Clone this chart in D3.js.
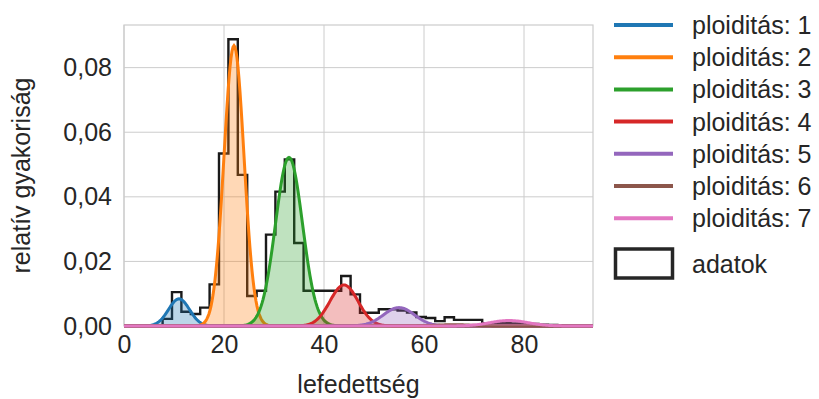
<!DOCTYPE html>
<html>
<head>
<meta charset="utf-8">
<script src="https://cdn.jsdelivr.net/npm/d3@7"></script>
<style>
  body { margin: 0; background: #fff; }
  svg text { font-family: "Liberation Sans", Arial, sans-serif; fill: #262626; }
</style>
</head>
<body>
<svg id="chart" width="819" height="399"></svg>
<script>
// histogram of coverage (bin edges and relative frequency per bin)
const binEdges = [7.72, 9.6, 11.48, 13.36, 15.24, 17.12, 19.0, 20.88, 22.76, 24.64,
  26.52, 28.4, 30.28, 32.16, 34.04, 35.92, 37.8, 39.68, 41.56, 43.44,
  45.32, 47.2, 49.08, 50.96, 52.84, 54.72, 56.6, 58.48, 60.36, 62.24,
  64.12, 66.0, 67.88, 69.76, 71.64, 73.52, 75.4, 77.28, 79.16, 81.04,
  82.92, 84.8, 86.68, 88.56];
const binValues = [0.0022, 0.0105, 0.0044, 0.0037, 0.0057, 0.0129, 0.0534, 0.0888, 0.0468, 0.0093,
  0.0109, 0.0283, 0.0416, 0.0516, 0.0257, 0.0109, 0.0109, 0.0109, 0.0109, 0.0155,
  0.0098, 0.0041, 0.0041, 0.0052, 0.0052, 0.0048, 0.0042, 0.0028, 0.0025, 0.0015,
  0.0027, 0.0019, 0.0019, 0.0019, 0.0009, 0.0008, 0.0009, 0.0008, 0.0007, 0.0006,
  0.0004, 0.0003, 0.0001];

// fitted ploidy components
const ploidyLabels = ['ploiditás: 1', 'ploiditás: 2', 'ploiditás: 3', 'ploiditás: 4',
  'ploiditás: 5', 'ploiditás: 6', 'ploiditás: 7'];
const ploidyMeans = [11, 22, 33, 44, 55, 66, 77];
const ploidySds = [2.1, 2.0, 2.7, 2.8, 3.1, 3.5, 3.8];
const ploidyPeaks = [0.0084, 0.0868, 0.0522, 0.0127, 0.0057, 0.0004, 0.0017];
const ploidyColors = ['#1f77b4', '#ff7f0e', '#2ca02c', '#d62728', '#9467bd', '#8c564b', '#e377c2'];

const xTicks = [0, 20, 40, 60, 80];
const yTicks = [0, 0.02, 0.04, 0.06, 0.08];
const dataLabel = 'adatok';

const margin = { top: 25, right: 226, bottom: 73, left: 124 };
const width = 819, height = 399;
const chartW = width - margin.left - margin.right;
const chartH = height - margin.top - margin.bottom;

const svg = d3.select('#chart');

const x = d3.scaleLinear().domain([0, 93.8]).range([0, chartW]);
const y = d3.scaleLinear().domain([0, 0.0932]).range([chartH, 0]);

const g = svg.append('g').attr('transform', `translate(${margin.left},${margin.top})`);

g.append('clipPath').attr('id', 'clip')
  .append('rect').attr('x', 0).attr('y', -2).attr('width', chartW).attr('height', chartH + 4);

// grid
g.append('g').selectAll('line').data(xTicks).join('line')
  .attr('x1', d => x(d)).attr('x2', d => x(d))
  .attr('y1', 0).attr('y2', chartH)
  .attr('stroke', '#cccccc').attr('stroke-width', 1);
g.append('g').selectAll('line').data(yTicks).join('line')
  .attr('x1', 0).attr('x2', chartW)
  .attr('y1', d => y(d)).attr('y2', d => y(d))
  .attr('stroke', '#cccccc').attr('stroke-width', 1);

g.append('rect').attr('width', chartW).attr('height', chartH)
  .attr('fill', 'none').attr('stroke', '#cccccc').attr('stroke-width', 1.2);

// axes
const fmt = d => d3.format('.2f')(d).replace('.', ',');
const yAxis = g.append('g').call(d3.axisLeft(y).tickValues(yTicks).tickFormat(fmt).tickSize(0).tickPadding(12));
const xAxis = g.append('g').attr('transform', `translate(0,${chartH})`)
  .call(d3.axisBottom(x).tickValues(xTicks).tickSize(0).tickPadding(9));
[xAxis, yAxis].forEach(a => {
  a.select('.domain').remove();
  a.selectAll('text').attr('font-size', 25).attr('font-family', '"Liberation Sans", Arial, sans-serif').attr('fill', '#262626');
});

const plot = g.append('g').attr('clip-path', 'url(#clip)');

// histogram outline
const histPts = [[binEdges[0], 0]];
binValues.forEach((v, i) => {
  histPts.push([binEdges[i], v]);
  histPts.push([binEdges[i + 1], v]);
});
histPts.push([binEdges[binEdges.length - 1], 0]);
plot.append('path')
  .attr('d', d3.line().x(d => x(d[0])).y(d => y(d[1]))(histPts))
  .attr('fill', 'none').attr('stroke', '#1a1a1a').attr('stroke-width', 2.4);

// components
const xs = d3.range(0, 94, 0.2);
ploidyMeans.forEach((m, i) => {
  const pts = xs.map(v => [v, ploidyPeaks[i] * Math.exp(-((v - m) ** 2) / (2 * ploidySds[i] ** 2))]);
  plot.append('path')
    .attr('d', d3.area().x(d => x(d[0])).y0(y(0)).y1(d => y(d[1]))(pts))
    .attr('fill', ploidyColors[i]).attr('fill-opacity', 0.3);
  plot.append('path')
    .attr('d', d3.line().x(d => x(d[0])).y(d => y(d[1]))(pts))
    .attr('fill', 'none').attr('stroke', ploidyColors[i]).attr('stroke-width', 3);
});

// axis titles
svg.append('text').attr('x', margin.left + chartW / 2).attr('y', 393)
  .attr('text-anchor', 'middle').attr('font-size', 25).text('lefedettség');
svg.append('text').attr('transform', `translate(30,${margin.top + chartH / 2}) rotate(-90)`)
  .attr('text-anchor', 'middle').attr('font-size', 25).text('relatív gyakoriság');

// legend
const legend = svg.append('g').attr('transform', 'translate(614,25)');
const rows = legend.selectAll('g').data(ploidyLabels).join('g')
  .attr('transform', (d, i) => `translate(0,${i * 32.2})`);
rows.append('line').attr('x1', 0).attr('x2', 59)
  .attr('stroke', (d, i) => ploidyColors[i]).attr('stroke-width', 4);
rows.append('text').attr('x', 78).attr('dy', '0.36em').attr('font-size', 25).text(d => d);
legend.append('rect').attr('x', 1.5).attr('y', 224).attr('width', 57).attr('height', 29)
  .attr('fill', 'none').attr('stroke', '#262626').attr('stroke-width', 3.5);
legend.append('text').attr('x', 78).attr('y', 238.5).attr('dy', '0.36em').attr('font-size', 25).text(dataLabel);
</script>
</body>
</html>
